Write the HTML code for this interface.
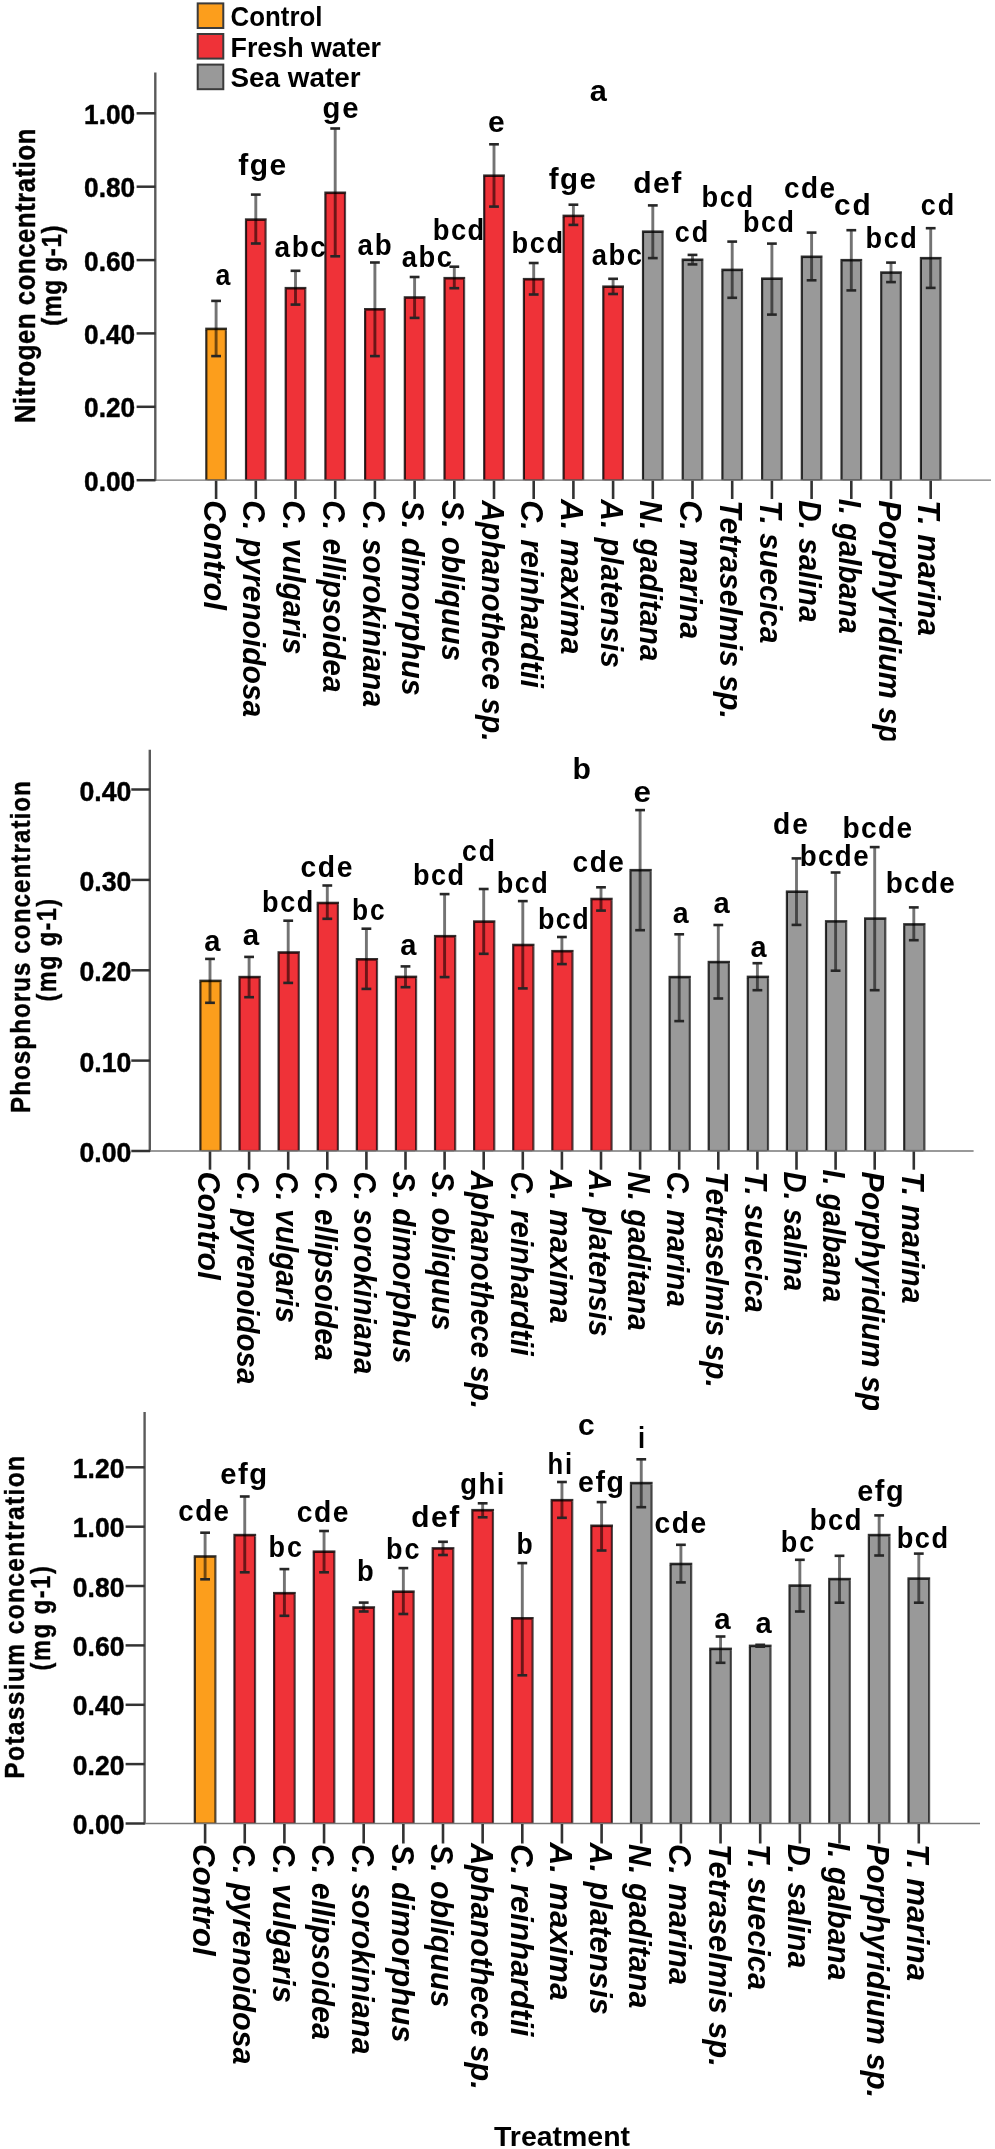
<!DOCTYPE html>
<html lang="en">
<head>
<meta charset="utf-8">
<title>Nutrient concentrations by treatment</title>
<style>
html,body{margin:0;padding:0;background:#fff;}
body{width:995px;height:2149px;overflow:hidden;}
svg{display:block;}
</style>
</head>
<body>
<svg width="995" height="2149" viewBox="0 0 995 2149" font-family="'Liberation Sans', Arial, Helvetica, sans-serif" font-weight="bold" fill="#000">
<rect x="0" y="0" width="995" height="2149" fill="#ffffff"/>
<defs><filter id="soft" x="0" y="0" width="995" height="2149" filterUnits="userSpaceOnUse"><feGaussianBlur stdDeviation="0.5"/></filter></defs>
<g filter="url(#soft)">
<rect x="0" y="0" width="995" height="2149" fill="#ffffff"/>
<rect x="206.30" y="328.70" width="19.60" height="151.50" fill="#fc9e1e"/>
<path d="M206.30 480.20V330.00" fill="none" stroke="#000" stroke-opacity="0.8" stroke-width="2.2"/>
<path d="M205.20 328.90H227.00" fill="none" stroke="#000" stroke-opacity="0.8" stroke-width="2.6"/>
<path d="M225.90 330.20V480.20" fill="none" stroke="#000" stroke-opacity="0.66" stroke-width="2.2"/>
<path d="M207.40 479.90H224.80" fill="none" stroke="#000" stroke-opacity="0.5" stroke-width="1.6"/>
<rect x="246.00" y="219.40" width="19.60" height="260.80" fill="#ef3039"/>
<path d="M246.00 480.20V220.70" fill="none" stroke="#000" stroke-opacity="0.8" stroke-width="2.2"/>
<path d="M244.90 219.60H266.70" fill="none" stroke="#000" stroke-opacity="0.8" stroke-width="2.6"/>
<path d="M265.60 220.90V480.20" fill="none" stroke="#000" stroke-opacity="0.66" stroke-width="2.2"/>
<path d="M247.10 479.90H264.50" fill="none" stroke="#000" stroke-opacity="0.5" stroke-width="1.6"/>
<rect x="285.70" y="288.00" width="19.60" height="192.20" fill="#ef3039"/>
<path d="M285.70 480.20V289.30" fill="none" stroke="#000" stroke-opacity="0.8" stroke-width="2.2"/>
<path d="M284.60 288.20H306.40" fill="none" stroke="#000" stroke-opacity="0.8" stroke-width="2.6"/>
<path d="M305.30 289.50V480.20" fill="none" stroke="#000" stroke-opacity="0.66" stroke-width="2.2"/>
<path d="M286.80 479.90H304.20" fill="none" stroke="#000" stroke-opacity="0.5" stroke-width="1.6"/>
<rect x="325.40" y="192.60" width="19.60" height="287.60" fill="#ef3039"/>
<path d="M325.40 480.20V193.90" fill="none" stroke="#000" stroke-opacity="0.8" stroke-width="2.2"/>
<path d="M324.30 192.80H346.10" fill="none" stroke="#000" stroke-opacity="0.8" stroke-width="2.6"/>
<path d="M345.00 194.10V480.20" fill="none" stroke="#000" stroke-opacity="0.66" stroke-width="2.2"/>
<path d="M326.50 479.90H343.90" fill="none" stroke="#000" stroke-opacity="0.5" stroke-width="1.6"/>
<rect x="365.10" y="309.10" width="19.60" height="171.10" fill="#ef3039"/>
<path d="M365.10 480.20V310.40" fill="none" stroke="#000" stroke-opacity="0.8" stroke-width="2.2"/>
<path d="M364.00 309.30H385.80" fill="none" stroke="#000" stroke-opacity="0.8" stroke-width="2.6"/>
<path d="M384.70 310.60V480.20" fill="none" stroke="#000" stroke-opacity="0.66" stroke-width="2.2"/>
<path d="M366.20 479.90H383.60" fill="none" stroke="#000" stroke-opacity="0.5" stroke-width="1.6"/>
<rect x="404.80" y="297.30" width="19.60" height="182.90" fill="#ef3039"/>
<path d="M404.80 480.20V298.60" fill="none" stroke="#000" stroke-opacity="0.8" stroke-width="2.2"/>
<path d="M403.70 297.50H425.50" fill="none" stroke="#000" stroke-opacity="0.8" stroke-width="2.6"/>
<path d="M424.40 298.80V480.20" fill="none" stroke="#000" stroke-opacity="0.66" stroke-width="2.2"/>
<path d="M405.90 479.90H423.30" fill="none" stroke="#000" stroke-opacity="0.5" stroke-width="1.6"/>
<rect x="444.50" y="278.00" width="19.60" height="202.20" fill="#ef3039"/>
<path d="M444.50 480.20V279.30" fill="none" stroke="#000" stroke-opacity="0.8" stroke-width="2.2"/>
<path d="M443.40 278.20H465.20" fill="none" stroke="#000" stroke-opacity="0.8" stroke-width="2.6"/>
<path d="M464.10 279.50V480.20" fill="none" stroke="#000" stroke-opacity="0.66" stroke-width="2.2"/>
<path d="M445.60 479.90H463.00" fill="none" stroke="#000" stroke-opacity="0.5" stroke-width="1.6"/>
<rect x="484.20" y="175.50" width="19.60" height="304.70" fill="#ef3039"/>
<path d="M484.20 480.20V176.80" fill="none" stroke="#000" stroke-opacity="0.8" stroke-width="2.2"/>
<path d="M483.10 175.70H504.90" fill="none" stroke="#000" stroke-opacity="0.8" stroke-width="2.6"/>
<path d="M503.80 177.00V480.20" fill="none" stroke="#000" stroke-opacity="0.66" stroke-width="2.2"/>
<path d="M485.30 479.90H502.70" fill="none" stroke="#000" stroke-opacity="0.5" stroke-width="1.6"/>
<rect x="523.90" y="279.00" width="19.60" height="201.20" fill="#ef3039"/>
<path d="M523.90 480.20V280.30" fill="none" stroke="#000" stroke-opacity="0.8" stroke-width="2.2"/>
<path d="M522.80 279.20H544.60" fill="none" stroke="#000" stroke-opacity="0.8" stroke-width="2.6"/>
<path d="M543.50 280.50V480.20" fill="none" stroke="#000" stroke-opacity="0.66" stroke-width="2.2"/>
<path d="M525.00 479.90H542.40" fill="none" stroke="#000" stroke-opacity="0.5" stroke-width="1.6"/>
<rect x="563.60" y="215.70" width="19.60" height="264.50" fill="#ef3039"/>
<path d="M563.60 480.20V217.00" fill="none" stroke="#000" stroke-opacity="0.8" stroke-width="2.2"/>
<path d="M562.50 215.90H584.30" fill="none" stroke="#000" stroke-opacity="0.8" stroke-width="2.6"/>
<path d="M583.20 217.20V480.20" fill="none" stroke="#000" stroke-opacity="0.66" stroke-width="2.2"/>
<path d="M564.70 479.90H582.10" fill="none" stroke="#000" stroke-opacity="0.5" stroke-width="1.6"/>
<rect x="603.30" y="286.50" width="19.60" height="193.70" fill="#ef3039"/>
<path d="M603.30 480.20V287.80" fill="none" stroke="#000" stroke-opacity="0.8" stroke-width="2.2"/>
<path d="M602.20 286.70H624.00" fill="none" stroke="#000" stroke-opacity="0.8" stroke-width="2.6"/>
<path d="M622.90 288.00V480.20" fill="none" stroke="#000" stroke-opacity="0.66" stroke-width="2.2"/>
<path d="M604.40 479.90H621.80" fill="none" stroke="#000" stroke-opacity="0.5" stroke-width="1.6"/>
<rect x="643.00" y="231.50" width="19.60" height="248.70" fill="#999999"/>
<path d="M643.00 480.20V232.80" fill="none" stroke="#000" stroke-opacity="0.8" stroke-width="2.2"/>
<path d="M641.90 231.70H663.70" fill="none" stroke="#000" stroke-opacity="0.8" stroke-width="2.6"/>
<path d="M662.60 233.00V480.20" fill="none" stroke="#000" stroke-opacity="0.66" stroke-width="2.2"/>
<path d="M644.10 479.90H661.50" fill="none" stroke="#000" stroke-opacity="0.5" stroke-width="1.6"/>
<rect x="682.70" y="259.60" width="19.60" height="220.60" fill="#999999"/>
<path d="M682.70 480.20V260.90" fill="none" stroke="#000" stroke-opacity="0.8" stroke-width="2.2"/>
<path d="M681.60 259.80H703.40" fill="none" stroke="#000" stroke-opacity="0.8" stroke-width="2.6"/>
<path d="M702.30 261.10V480.20" fill="none" stroke="#000" stroke-opacity="0.66" stroke-width="2.2"/>
<path d="M683.80 479.90H701.20" fill="none" stroke="#000" stroke-opacity="0.5" stroke-width="1.6"/>
<rect x="722.40" y="269.70" width="19.60" height="210.50" fill="#999999"/>
<path d="M722.40 480.20V271.00" fill="none" stroke="#000" stroke-opacity="0.8" stroke-width="2.2"/>
<path d="M721.30 269.90H743.10" fill="none" stroke="#000" stroke-opacity="0.8" stroke-width="2.6"/>
<path d="M742.00 271.20V480.20" fill="none" stroke="#000" stroke-opacity="0.66" stroke-width="2.2"/>
<path d="M723.50 479.90H740.90" fill="none" stroke="#000" stroke-opacity="0.5" stroke-width="1.6"/>
<rect x="762.10" y="278.50" width="19.60" height="201.70" fill="#999999"/>
<path d="M762.10 480.20V279.80" fill="none" stroke="#000" stroke-opacity="0.8" stroke-width="2.2"/>
<path d="M761.00 278.70H782.80" fill="none" stroke="#000" stroke-opacity="0.8" stroke-width="2.6"/>
<path d="M781.70 280.00V480.20" fill="none" stroke="#000" stroke-opacity="0.66" stroke-width="2.2"/>
<path d="M763.20 479.90H780.60" fill="none" stroke="#000" stroke-opacity="0.5" stroke-width="1.6"/>
<rect x="801.80" y="256.60" width="19.60" height="223.60" fill="#999999"/>
<path d="M801.80 480.20V257.90" fill="none" stroke="#000" stroke-opacity="0.8" stroke-width="2.2"/>
<path d="M800.70 256.80H822.50" fill="none" stroke="#000" stroke-opacity="0.8" stroke-width="2.6"/>
<path d="M821.40 258.10V480.20" fill="none" stroke="#000" stroke-opacity="0.66" stroke-width="2.2"/>
<path d="M802.90 479.90H820.30" fill="none" stroke="#000" stroke-opacity="0.5" stroke-width="1.6"/>
<rect x="841.50" y="260.00" width="19.60" height="220.20" fill="#999999"/>
<path d="M841.50 480.20V261.30" fill="none" stroke="#000" stroke-opacity="0.8" stroke-width="2.2"/>
<path d="M840.40 260.20H862.20" fill="none" stroke="#000" stroke-opacity="0.8" stroke-width="2.6"/>
<path d="M861.10 261.50V480.20" fill="none" stroke="#000" stroke-opacity="0.66" stroke-width="2.2"/>
<path d="M842.60 479.90H860.00" fill="none" stroke="#000" stroke-opacity="0.5" stroke-width="1.6"/>
<rect x="881.20" y="272.40" width="19.60" height="207.80" fill="#999999"/>
<path d="M881.20 480.20V273.70" fill="none" stroke="#000" stroke-opacity="0.8" stroke-width="2.2"/>
<path d="M880.10 272.60H901.90" fill="none" stroke="#000" stroke-opacity="0.8" stroke-width="2.6"/>
<path d="M900.80 273.90V480.20" fill="none" stroke="#000" stroke-opacity="0.66" stroke-width="2.2"/>
<path d="M882.30 479.90H899.70" fill="none" stroke="#000" stroke-opacity="0.5" stroke-width="1.6"/>
<rect x="920.90" y="258.00" width="19.60" height="222.20" fill="#999999"/>
<path d="M920.90 480.20V259.30" fill="none" stroke="#000" stroke-opacity="0.8" stroke-width="2.2"/>
<path d="M919.80 258.20H941.60" fill="none" stroke="#000" stroke-opacity="0.8" stroke-width="2.6"/>
<path d="M940.50 259.50V480.20" fill="none" stroke="#000" stroke-opacity="0.66" stroke-width="2.2"/>
<path d="M922.00 479.90H939.40" fill="none" stroke="#000" stroke-opacity="0.5" stroke-width="1.6"/>
<line x1="155.30" y1="72.50" x2="155.30" y2="481.00" stroke="#5a5a5a" stroke-width="2.40"/>
<line x1="154.20" y1="480.20" x2="991.00" y2="480.20" stroke="#777777" stroke-width="1.30"/>
<line x1="136.60" y1="113.30" x2="155.50" y2="113.30" stroke="#333333" stroke-width="2.50"/>
<text font-size="28.50" stroke="#000" stroke-width="0.45" stroke-linejoin="round" textLength="51.1" lengthAdjust="spacingAndGlyphs" x="84.10" y="123.80">1.00</text>
<line x1="136.60" y1="186.70" x2="155.50" y2="186.70" stroke="#333333" stroke-width="2.50"/>
<text font-size="28.50" stroke="#000" stroke-width="0.45" stroke-linejoin="round" textLength="51.1" lengthAdjust="spacingAndGlyphs" x="84.10" y="197.20">0.80</text>
<line x1="136.60" y1="260.10" x2="155.50" y2="260.10" stroke="#333333" stroke-width="2.50"/>
<text font-size="28.50" stroke="#000" stroke-width="0.45" stroke-linejoin="round" textLength="51.1" lengthAdjust="spacingAndGlyphs" x="84.10" y="270.60">0.60</text>
<line x1="136.60" y1="333.40" x2="155.50" y2="333.40" stroke="#333333" stroke-width="2.50"/>
<text font-size="28.50" stroke="#000" stroke-width="0.45" stroke-linejoin="round" textLength="51.1" lengthAdjust="spacingAndGlyphs" x="84.10" y="343.90">0.40</text>
<line x1="136.60" y1="406.80" x2="155.50" y2="406.80" stroke="#333333" stroke-width="2.50"/>
<text font-size="28.50" stroke="#000" stroke-width="0.45" stroke-linejoin="round" textLength="51.1" lengthAdjust="spacingAndGlyphs" x="84.10" y="417.30">0.20</text>
<line x1="136.60" y1="480.20" x2="155.50" y2="480.20" stroke="#333333" stroke-width="2.50"/>
<text font-size="28.50" stroke="#000" stroke-width="0.45" stroke-linejoin="round" textLength="51.1" lengthAdjust="spacingAndGlyphs" x="84.10" y="490.70">0.00</text>
<line x1="216.10" y1="480.70" x2="216.10" y2="499.00" stroke="#303030" stroke-width="2.60"/>
<path d="M216.10 300.60V356.40" stroke="#000" stroke-opacity="0.55" stroke-width="2.9"/>
<line x1="211.20" y1="300.90" x2="221.00" y2="300.90" stroke="#262626" stroke-width="2.60"/>
<line x1="211.20" y1="356.10" x2="221.00" y2="356.10" stroke="#262626" stroke-width="2.60"/>
<line x1="255.80" y1="480.70" x2="255.80" y2="499.00" stroke="#303030" stroke-width="2.60"/>
<path d="M255.80 194.30V243.80" stroke="#000" stroke-opacity="0.55" stroke-width="2.9"/>
<line x1="250.90" y1="194.60" x2="260.70" y2="194.60" stroke="#262626" stroke-width="2.60"/>
<line x1="250.90" y1="243.50" x2="260.70" y2="243.50" stroke="#262626" stroke-width="2.60"/>
<line x1="295.50" y1="480.70" x2="295.50" y2="499.00" stroke="#303030" stroke-width="2.60"/>
<path d="M295.50 270.50V304.90" stroke="#000" stroke-opacity="0.55" stroke-width="2.9"/>
<line x1="290.60" y1="270.80" x2="300.40" y2="270.80" stroke="#262626" stroke-width="2.60"/>
<line x1="290.60" y1="304.60" x2="300.40" y2="304.60" stroke="#262626" stroke-width="2.60"/>
<line x1="335.20" y1="480.70" x2="335.20" y2="499.00" stroke="#303030" stroke-width="2.60"/>
<path d="M335.20 128.20V256.60" stroke="#000" stroke-opacity="0.55" stroke-width="2.9"/>
<line x1="330.30" y1="128.50" x2="340.10" y2="128.50" stroke="#262626" stroke-width="2.60"/>
<line x1="330.30" y1="256.30" x2="340.10" y2="256.30" stroke="#262626" stroke-width="2.60"/>
<line x1="374.90" y1="480.70" x2="374.90" y2="499.00" stroke="#303030" stroke-width="2.60"/>
<path d="M374.90 262.20V356.40" stroke="#000" stroke-opacity="0.55" stroke-width="2.9"/>
<line x1="370.00" y1="262.50" x2="379.80" y2="262.50" stroke="#262626" stroke-width="2.60"/>
<line x1="370.00" y1="356.10" x2="379.80" y2="356.10" stroke="#262626" stroke-width="2.60"/>
<line x1="414.60" y1="480.70" x2="414.60" y2="499.00" stroke="#303030" stroke-width="2.60"/>
<path d="M414.60 276.70V318.20" stroke="#000" stroke-opacity="0.55" stroke-width="2.9"/>
<line x1="409.70" y1="277.00" x2="419.50" y2="277.00" stroke="#262626" stroke-width="2.60"/>
<line x1="409.70" y1="317.90" x2="419.50" y2="317.90" stroke="#262626" stroke-width="2.60"/>
<line x1="454.30" y1="480.70" x2="454.30" y2="499.00" stroke="#303030" stroke-width="2.60"/>
<path d="M454.30 266.40V288.50" stroke="#000" stroke-opacity="0.55" stroke-width="2.9"/>
<line x1="449.40" y1="266.70" x2="459.20" y2="266.70" stroke="#262626" stroke-width="2.60"/>
<line x1="449.40" y1="288.20" x2="459.20" y2="288.20" stroke="#262626" stroke-width="2.60"/>
<line x1="494.00" y1="480.70" x2="494.00" y2="499.00" stroke="#303030" stroke-width="2.60"/>
<path d="M494.00 144.00V206.90" stroke="#000" stroke-opacity="0.55" stroke-width="2.9"/>
<line x1="489.10" y1="144.30" x2="498.90" y2="144.30" stroke="#262626" stroke-width="2.60"/>
<line x1="489.10" y1="206.60" x2="498.90" y2="206.60" stroke="#262626" stroke-width="2.60"/>
<line x1="533.70" y1="480.70" x2="533.70" y2="499.00" stroke="#303030" stroke-width="2.60"/>
<path d="M533.70 262.70V294.80" stroke="#000" stroke-opacity="0.55" stroke-width="2.9"/>
<line x1="528.80" y1="263.00" x2="538.60" y2="263.00" stroke="#262626" stroke-width="2.60"/>
<line x1="528.80" y1="294.50" x2="538.60" y2="294.50" stroke="#262626" stroke-width="2.60"/>
<line x1="573.40" y1="480.70" x2="573.40" y2="499.00" stroke="#303030" stroke-width="2.60"/>
<path d="M573.40 204.40V225.20" stroke="#000" stroke-opacity="0.55" stroke-width="2.9"/>
<line x1="568.50" y1="204.70" x2="578.30" y2="204.70" stroke="#262626" stroke-width="2.60"/>
<line x1="568.50" y1="224.90" x2="578.30" y2="224.90" stroke="#262626" stroke-width="2.60"/>
<line x1="613.10" y1="480.70" x2="613.10" y2="499.00" stroke="#303030" stroke-width="2.60"/>
<path d="M613.10 278.50V294.30" stroke="#000" stroke-opacity="0.55" stroke-width="2.9"/>
<line x1="608.20" y1="278.80" x2="618.00" y2="278.80" stroke="#262626" stroke-width="2.60"/>
<line x1="608.20" y1="294.00" x2="618.00" y2="294.00" stroke="#262626" stroke-width="2.60"/>
<line x1="652.80" y1="480.70" x2="652.80" y2="499.00" stroke="#303030" stroke-width="2.60"/>
<path d="M652.80 205.10V258.40" stroke="#000" stroke-opacity="0.55" stroke-width="2.9"/>
<line x1="647.90" y1="205.40" x2="657.70" y2="205.40" stroke="#262626" stroke-width="2.60"/>
<line x1="647.90" y1="258.10" x2="657.70" y2="258.10" stroke="#262626" stroke-width="2.60"/>
<line x1="692.50" y1="480.70" x2="692.50" y2="499.00" stroke="#303030" stroke-width="2.60"/>
<path d="M692.50 254.60V264.70" stroke="#000" stroke-opacity="0.55" stroke-width="2.9"/>
<line x1="687.60" y1="254.90" x2="697.40" y2="254.90" stroke="#262626" stroke-width="2.60"/>
<line x1="687.60" y1="264.40" x2="697.40" y2="264.40" stroke="#262626" stroke-width="2.60"/>
<line x1="732.20" y1="480.70" x2="732.20" y2="499.00" stroke="#303030" stroke-width="2.60"/>
<path d="M732.20 241.30V298.10" stroke="#000" stroke-opacity="0.55" stroke-width="2.9"/>
<line x1="727.30" y1="241.60" x2="737.10" y2="241.60" stroke="#262626" stroke-width="2.60"/>
<line x1="727.30" y1="297.80" x2="737.10" y2="297.80" stroke="#262626" stroke-width="2.60"/>
<line x1="771.90" y1="480.70" x2="771.90" y2="499.00" stroke="#303030" stroke-width="2.60"/>
<path d="M771.90 243.30V314.90" stroke="#000" stroke-opacity="0.55" stroke-width="2.9"/>
<line x1="767.00" y1="243.60" x2="776.80" y2="243.60" stroke="#262626" stroke-width="2.60"/>
<line x1="767.00" y1="314.60" x2="776.80" y2="314.60" stroke="#262626" stroke-width="2.60"/>
<line x1="811.60" y1="480.70" x2="811.60" y2="499.00" stroke="#303030" stroke-width="2.60"/>
<path d="M811.60 232.30V280.60" stroke="#000" stroke-opacity="0.55" stroke-width="2.9"/>
<line x1="806.70" y1="232.60" x2="816.50" y2="232.60" stroke="#262626" stroke-width="2.60"/>
<line x1="806.70" y1="280.30" x2="816.50" y2="280.30" stroke="#262626" stroke-width="2.60"/>
<line x1="851.30" y1="480.70" x2="851.30" y2="499.00" stroke="#303030" stroke-width="2.60"/>
<path d="M851.30 229.90V290.70" stroke="#000" stroke-opacity="0.55" stroke-width="2.9"/>
<line x1="846.40" y1="230.20" x2="856.20" y2="230.20" stroke="#262626" stroke-width="2.60"/>
<line x1="846.40" y1="290.40" x2="856.20" y2="290.40" stroke="#262626" stroke-width="2.60"/>
<line x1="891.00" y1="480.70" x2="891.00" y2="499.00" stroke="#303030" stroke-width="2.60"/>
<path d="M891.00 262.30V282.40" stroke="#000" stroke-opacity="0.55" stroke-width="2.9"/>
<line x1="886.10" y1="262.60" x2="895.90" y2="262.60" stroke="#262626" stroke-width="2.60"/>
<line x1="886.10" y1="282.10" x2="895.90" y2="282.10" stroke="#262626" stroke-width="2.60"/>
<line x1="930.70" y1="480.70" x2="930.70" y2="499.00" stroke="#303030" stroke-width="2.60"/>
<path d="M930.70 227.90V288.20" stroke="#000" stroke-opacity="0.55" stroke-width="2.9"/>
<line x1="925.80" y1="228.20" x2="935.60" y2="228.20" stroke="#262626" stroke-width="2.60"/>
<line x1="925.80" y1="287.90" x2="935.60" y2="287.90" stroke="#262626" stroke-width="2.60"/>
<text font-size="29.00" textLength="14.9" lengthAdjust="spacingAndGlyphs" x="215.60" y="284.80">a</text>
<text font-size="29.00" textLength="46.4" lengthAdjust="spacing" transform="translate(238.20,175.00) rotate(0) scale(1.037,1)">fge</text>
<text font-size="29.00" textLength="53.1" lengthAdjust="spacing" transform="translate(274.60,257.10) rotate(0) scale(0.965,1)">abc</text>
<text font-size="29.00" textLength="35.8" lengthAdjust="spacing" transform="translate(322.40,117.70) rotate(0) scale(1.011,1)">ge</text>
<text font-size="29.00" textLength="35.9" lengthAdjust="spacing" transform="translate(357.50,254.60) rotate(0) scale(0.954,1)">ab</text>
<text font-size="29.00" textLength="53.1" lengthAdjust="spacing" transform="translate(401.80,267.20) rotate(0) scale(0.943,1)">abc</text>
<text font-size="29.00" textLength="54.7" lengthAdjust="spacing" transform="translate(432.70,240.00) rotate(0) scale(0.943,1)">bcd</text>
<text font-size="29.00" textLength="16.7" lengthAdjust="spacingAndGlyphs" x="488.00" y="132.00">e</text>
<text font-size="29.00" textLength="54.8" lengthAdjust="spacing" transform="translate(511.60,252.90) rotate(0) scale(0.939,1)">bcd</text>
<text font-size="29.00" textLength="46.4" lengthAdjust="spacing" transform="translate(548.80,188.50) rotate(0) scale(1.018,1)">fge</text>
<text font-size="29.00" textLength="53.1" lengthAdjust="spacing" transform="translate(591.70,264.70) rotate(0) scale(0.945,1)">abc</text>
<text font-size="29.00" textLength="46.4" lengthAdjust="spacing" transform="translate(633.20,193.00) rotate(0) scale(1.039,1)">def</text>
<text font-size="29.00" textLength="36.0" lengthAdjust="spacing" transform="translate(674.70,242.00) rotate(0) scale(0.931,1)">cd</text>
<text font-size="29.00" textLength="54.8" lengthAdjust="spacing" transform="translate(701.60,207.40) rotate(0) scale(0.939,1)">bcd</text>
<text font-size="29.00" textLength="54.8" lengthAdjust="spacing" transform="translate(743.10,232.00) rotate(0) scale(0.927,1)">bcd</text>
<text font-size="29.00" textLength="53.1" lengthAdjust="spacing" transform="translate(783.90,198.40) rotate(0) scale(0.963,1)">cde</text>
<text font-size="29.00" textLength="35.8" lengthAdjust="spacing" transform="translate(833.90,214.80) rotate(0) scale(1.028,1)">cd</text>
<text font-size="29.00" textLength="54.8" lengthAdjust="spacing" transform="translate(865.60,247.50) rotate(0) scale(0.933,1)">bcd</text>
<text font-size="29.00" textLength="36.0" lengthAdjust="spacing" transform="translate(920.80,215.30) rotate(0) scale(0.931,1)">cd</text>
<text font-size="29.00" textLength="17.1" lengthAdjust="spacingAndGlyphs" x="589.80" y="100.60">a</text>
<clipPath id="clip740"><rect x="0" y="480.2" width="995" height="260.3"/></clipPath>
<g clip-path="url(#clip740)">
<text font-size="31.50" font-style="italic" textLength="109.7" lengthAdjust="spacingAndGlyphs" transform="translate(203.70,500.30) rotate(90)">Control</text>
<text font-size="31.50" font-style="italic" textLength="217.0" lengthAdjust="spacingAndGlyphs" transform="translate(243.40,500.30) rotate(90)">C. pyrenoidosa</text>
<text font-size="31.50" font-style="italic" textLength="154.2" lengthAdjust="spacingAndGlyphs" transform="translate(283.10,500.30) rotate(90)">C. vulgaris</text>
<text font-size="31.50" font-style="italic" textLength="192.2" lengthAdjust="spacingAndGlyphs" transform="translate(322.80,500.30) rotate(90)">C. ellipsoidea</text>
<text font-size="31.50" font-style="italic" textLength="206.8" lengthAdjust="spacingAndGlyphs" transform="translate(362.50,500.30) rotate(90)">C. sorokiniana</text>
<text font-size="31.50" font-style="italic" textLength="195.5" lengthAdjust="spacingAndGlyphs" transform="translate(402.20,500.30) rotate(90)">S. dimorphus</text>
<text font-size="31.50" font-style="italic" textLength="160.7" lengthAdjust="spacingAndGlyphs" transform="translate(441.90,500.30) rotate(90)">S. obliquus</text>
<text font-size="31.50" font-style="italic" textLength="241.2" lengthAdjust="spacingAndGlyphs" transform="translate(481.60,500.30) rotate(90)">Aphanothece sp.</text>
<text font-size="31.50" font-style="italic" textLength="187.7" lengthAdjust="spacingAndGlyphs" transform="translate(521.30,500.30) rotate(90)">C. reinhardtii</text>
<text font-size="31.50" font-style="italic" textLength="155.2" lengthAdjust="spacingAndGlyphs" transform="translate(561.00,499.30) rotate(90)">A. maxima</text>
<text font-size="31.50" font-style="italic" textLength="168.7" lengthAdjust="spacingAndGlyphs" transform="translate(600.70,499.30) rotate(90)">A. platensis</text>
<text font-size="31.50" font-style="italic" textLength="161.2" lengthAdjust="spacingAndGlyphs" transform="translate(640.40,500.30) rotate(90)">N. gaditana</text>
<text font-size="31.50" font-style="italic" textLength="139.0" lengthAdjust="spacingAndGlyphs" transform="translate(680.10,500.30) rotate(90)">C. marina</text>
<text font-size="31.50" font-style="italic" textLength="218.6" lengthAdjust="spacingAndGlyphs" transform="translate(719.80,500.30) rotate(90)">Tetraselmis sp.</text>
<text font-size="31.50" font-style="italic" textLength="143.2" lengthAdjust="spacingAndGlyphs" transform="translate(759.50,500.30) rotate(90)">T. suecica</text>
<text font-size="31.50" font-style="italic" textLength="122.2" lengthAdjust="spacingAndGlyphs" transform="translate(799.20,500.30) rotate(90)">D. salina</text>
<text font-size="31.50" font-style="italic" textLength="135.1" lengthAdjust="spacingAndGlyphs" transform="translate(838.90,498.70) rotate(90)">I. galbana</text>
<text font-size="31.50" font-style="italic" textLength="251.4" lengthAdjust="spacingAndGlyphs" transform="translate(878.60,500.30) rotate(90)">Porphyridium sp.</text>
<text font-size="31.50" font-style="italic" textLength="135.7" lengthAdjust="spacingAndGlyphs" transform="translate(918.30,500.30) rotate(90)">T. marina</text>
</g>
<text font-size="29.50" stroke="#000" stroke-width="0.40" stroke-linejoin="round" textLength="338.5" lengthAdjust="spacing" transform="translate(35.30,423.00) rotate(-90) scale(0.870,1)">Nitrogen concentration</text>
<text font-size="28.00" stroke="#000" stroke-width="0.40" stroke-linejoin="round" textLength="115.5" lengthAdjust="spacing" transform="translate(61.00,325.80) rotate(-90) scale(0.870,1)">(mg g-1)</text>
<rect x="200.40" y="980.70" width="20.20" height="170.30" fill="#fc9e1e"/>
<path d="M200.40 1151.00V982.00" fill="none" stroke="#000" stroke-opacity="0.8" stroke-width="2.2"/>
<path d="M199.30 980.90H221.70" fill="none" stroke="#000" stroke-opacity="0.8" stroke-width="2.6"/>
<path d="M220.60 982.20V1151.00" fill="none" stroke="#000" stroke-opacity="0.66" stroke-width="2.2"/>
<path d="M201.50 1150.70H219.50" fill="none" stroke="#000" stroke-opacity="0.5" stroke-width="1.6"/>
<rect x="239.50" y="976.90" width="20.20" height="174.10" fill="#ef3039"/>
<path d="M239.50 1151.00V978.20" fill="none" stroke="#000" stroke-opacity="0.8" stroke-width="2.2"/>
<path d="M238.40 977.10H260.80" fill="none" stroke="#000" stroke-opacity="0.8" stroke-width="2.6"/>
<path d="M259.70 978.40V1151.00" fill="none" stroke="#000" stroke-opacity="0.66" stroke-width="2.2"/>
<path d="M240.60 1150.70H258.60" fill="none" stroke="#000" stroke-opacity="0.5" stroke-width="1.6"/>
<rect x="278.60" y="952.30" width="20.20" height="198.70" fill="#ef3039"/>
<path d="M278.60 1151.00V953.60" fill="none" stroke="#000" stroke-opacity="0.8" stroke-width="2.2"/>
<path d="M277.50 952.50H299.90" fill="none" stroke="#000" stroke-opacity="0.8" stroke-width="2.6"/>
<path d="M298.80 953.80V1151.00" fill="none" stroke="#000" stroke-opacity="0.66" stroke-width="2.2"/>
<path d="M279.70 1150.70H297.70" fill="none" stroke="#000" stroke-opacity="0.5" stroke-width="1.6"/>
<rect x="317.70" y="902.80" width="20.20" height="248.20" fill="#ef3039"/>
<path d="M317.70 1151.00V904.10" fill="none" stroke="#000" stroke-opacity="0.8" stroke-width="2.2"/>
<path d="M316.60 903.00H339.00" fill="none" stroke="#000" stroke-opacity="0.8" stroke-width="2.6"/>
<path d="M337.90 904.30V1151.00" fill="none" stroke="#000" stroke-opacity="0.66" stroke-width="2.2"/>
<path d="M318.80 1150.70H336.80" fill="none" stroke="#000" stroke-opacity="0.5" stroke-width="1.6"/>
<rect x="356.80" y="959.10" width="20.20" height="191.90" fill="#ef3039"/>
<path d="M356.80 1151.00V960.40" fill="none" stroke="#000" stroke-opacity="0.8" stroke-width="2.2"/>
<path d="M355.70 959.30H378.10" fill="none" stroke="#000" stroke-opacity="0.8" stroke-width="2.6"/>
<path d="M377.00 960.60V1151.00" fill="none" stroke="#000" stroke-opacity="0.66" stroke-width="2.2"/>
<path d="M357.90 1150.70H375.90" fill="none" stroke="#000" stroke-opacity="0.5" stroke-width="1.6"/>
<rect x="395.90" y="976.70" width="20.20" height="174.30" fill="#ef3039"/>
<path d="M395.90 1151.00V978.00" fill="none" stroke="#000" stroke-opacity="0.8" stroke-width="2.2"/>
<path d="M394.80 976.90H417.20" fill="none" stroke="#000" stroke-opacity="0.8" stroke-width="2.6"/>
<path d="M416.10 978.20V1151.00" fill="none" stroke="#000" stroke-opacity="0.66" stroke-width="2.2"/>
<path d="M397.00 1150.70H415.00" fill="none" stroke="#000" stroke-opacity="0.5" stroke-width="1.6"/>
<rect x="435.00" y="936.00" width="20.20" height="215.00" fill="#ef3039"/>
<path d="M435.00 1151.00V937.30" fill="none" stroke="#000" stroke-opacity="0.8" stroke-width="2.2"/>
<path d="M433.90 936.20H456.30" fill="none" stroke="#000" stroke-opacity="0.8" stroke-width="2.6"/>
<path d="M455.20 937.50V1151.00" fill="none" stroke="#000" stroke-opacity="0.66" stroke-width="2.2"/>
<path d="M436.10 1150.70H454.10" fill="none" stroke="#000" stroke-opacity="0.5" stroke-width="1.6"/>
<rect x="474.10" y="921.40" width="20.20" height="229.60" fill="#ef3039"/>
<path d="M474.10 1151.00V922.70" fill="none" stroke="#000" stroke-opacity="0.8" stroke-width="2.2"/>
<path d="M473.00 921.60H495.40" fill="none" stroke="#000" stroke-opacity="0.8" stroke-width="2.6"/>
<path d="M494.30 922.90V1151.00" fill="none" stroke="#000" stroke-opacity="0.66" stroke-width="2.2"/>
<path d="M475.20 1150.70H493.20" fill="none" stroke="#000" stroke-opacity="0.5" stroke-width="1.6"/>
<rect x="513.20" y="944.80" width="20.20" height="206.20" fill="#ef3039"/>
<path d="M513.20 1151.00V946.10" fill="none" stroke="#000" stroke-opacity="0.8" stroke-width="2.2"/>
<path d="M512.10 945.00H534.50" fill="none" stroke="#000" stroke-opacity="0.8" stroke-width="2.6"/>
<path d="M533.40 946.30V1151.00" fill="none" stroke="#000" stroke-opacity="0.66" stroke-width="2.2"/>
<path d="M514.30 1150.70H532.30" fill="none" stroke="#000" stroke-opacity="0.5" stroke-width="1.6"/>
<rect x="552.30" y="951.00" width="20.20" height="200.00" fill="#ef3039"/>
<path d="M552.30 1151.00V952.30" fill="none" stroke="#000" stroke-opacity="0.8" stroke-width="2.2"/>
<path d="M551.20 951.20H573.60" fill="none" stroke="#000" stroke-opacity="0.8" stroke-width="2.6"/>
<path d="M572.50 952.50V1151.00" fill="none" stroke="#000" stroke-opacity="0.66" stroke-width="2.2"/>
<path d="M553.40 1150.70H571.40" fill="none" stroke="#000" stroke-opacity="0.5" stroke-width="1.6"/>
<rect x="591.40" y="898.80" width="20.20" height="252.20" fill="#ef3039"/>
<path d="M591.40 1151.00V900.10" fill="none" stroke="#000" stroke-opacity="0.8" stroke-width="2.2"/>
<path d="M590.30 899.00H612.70" fill="none" stroke="#000" stroke-opacity="0.8" stroke-width="2.6"/>
<path d="M611.60 900.30V1151.00" fill="none" stroke="#000" stroke-opacity="0.66" stroke-width="2.2"/>
<path d="M592.50 1150.70H610.50" fill="none" stroke="#000" stroke-opacity="0.5" stroke-width="1.6"/>
<rect x="630.50" y="870.00" width="20.20" height="281.00" fill="#999999"/>
<path d="M630.50 1151.00V871.30" fill="none" stroke="#000" stroke-opacity="0.8" stroke-width="2.2"/>
<path d="M629.40 870.20H651.80" fill="none" stroke="#000" stroke-opacity="0.8" stroke-width="2.6"/>
<path d="M650.70 871.50V1151.00" fill="none" stroke="#000" stroke-opacity="0.66" stroke-width="2.2"/>
<path d="M631.60 1150.70H649.60" fill="none" stroke="#000" stroke-opacity="0.5" stroke-width="1.6"/>
<rect x="669.60" y="976.90" width="20.20" height="174.10" fill="#999999"/>
<path d="M669.60 1151.00V978.20" fill="none" stroke="#000" stroke-opacity="0.8" stroke-width="2.2"/>
<path d="M668.50 977.10H690.90" fill="none" stroke="#000" stroke-opacity="0.8" stroke-width="2.6"/>
<path d="M689.80 978.40V1151.00" fill="none" stroke="#000" stroke-opacity="0.66" stroke-width="2.2"/>
<path d="M670.70 1150.70H688.70" fill="none" stroke="#000" stroke-opacity="0.5" stroke-width="1.6"/>
<rect x="708.70" y="961.90" width="20.20" height="189.10" fill="#999999"/>
<path d="M708.70 1151.00V963.20" fill="none" stroke="#000" stroke-opacity="0.8" stroke-width="2.2"/>
<path d="M707.60 962.10H730.00" fill="none" stroke="#000" stroke-opacity="0.8" stroke-width="2.6"/>
<path d="M728.90 963.40V1151.00" fill="none" stroke="#000" stroke-opacity="0.66" stroke-width="2.2"/>
<path d="M709.80 1150.70H727.80" fill="none" stroke="#000" stroke-opacity="0.5" stroke-width="1.6"/>
<rect x="747.80" y="976.70" width="20.20" height="174.30" fill="#999999"/>
<path d="M747.80 1151.00V978.00" fill="none" stroke="#000" stroke-opacity="0.8" stroke-width="2.2"/>
<path d="M746.70 976.90H769.10" fill="none" stroke="#000" stroke-opacity="0.8" stroke-width="2.6"/>
<path d="M768.00 978.20V1151.00" fill="none" stroke="#000" stroke-opacity="0.66" stroke-width="2.2"/>
<path d="M748.90 1150.70H766.90" fill="none" stroke="#000" stroke-opacity="0.5" stroke-width="1.6"/>
<rect x="786.90" y="891.50" width="20.20" height="259.50" fill="#999999"/>
<path d="M786.90 1151.00V892.80" fill="none" stroke="#000" stroke-opacity="0.8" stroke-width="2.2"/>
<path d="M785.80 891.70H808.20" fill="none" stroke="#000" stroke-opacity="0.8" stroke-width="2.6"/>
<path d="M807.10 893.00V1151.00" fill="none" stroke="#000" stroke-opacity="0.66" stroke-width="2.2"/>
<path d="M788.00 1150.70H806.00" fill="none" stroke="#000" stroke-opacity="0.5" stroke-width="1.6"/>
<rect x="826.00" y="921.20" width="20.20" height="229.80" fill="#999999"/>
<path d="M826.00 1151.00V922.50" fill="none" stroke="#000" stroke-opacity="0.8" stroke-width="2.2"/>
<path d="M824.90 921.40H847.30" fill="none" stroke="#000" stroke-opacity="0.8" stroke-width="2.6"/>
<path d="M846.20 922.70V1151.00" fill="none" stroke="#000" stroke-opacity="0.66" stroke-width="2.2"/>
<path d="M827.10 1150.70H845.10" fill="none" stroke="#000" stroke-opacity="0.5" stroke-width="1.6"/>
<rect x="865.10" y="918.40" width="20.20" height="232.60" fill="#999999"/>
<path d="M865.10 1151.00V919.70" fill="none" stroke="#000" stroke-opacity="0.8" stroke-width="2.2"/>
<path d="M864.00 918.60H886.40" fill="none" stroke="#000" stroke-opacity="0.8" stroke-width="2.6"/>
<path d="M885.30 919.90V1151.00" fill="none" stroke="#000" stroke-opacity="0.66" stroke-width="2.2"/>
<path d="M866.20 1150.70H884.20" fill="none" stroke="#000" stroke-opacity="0.5" stroke-width="1.6"/>
<rect x="904.20" y="924.20" width="20.20" height="226.80" fill="#999999"/>
<path d="M904.20 1151.00V925.50" fill="none" stroke="#000" stroke-opacity="0.8" stroke-width="2.2"/>
<path d="M903.10 924.40H925.50" fill="none" stroke="#000" stroke-opacity="0.8" stroke-width="2.6"/>
<path d="M924.40 925.70V1151.00" fill="none" stroke="#000" stroke-opacity="0.66" stroke-width="2.2"/>
<path d="M905.30 1150.70H923.30" fill="none" stroke="#000" stroke-opacity="0.5" stroke-width="1.6"/>
<line x1="149.80" y1="749.80" x2="149.80" y2="1151.80" stroke="#5a5a5a" stroke-width="2.40"/>
<line x1="148.70" y1="1151.00" x2="973.60" y2="1151.00" stroke="#777777" stroke-width="1.30"/>
<line x1="131.30" y1="789.50" x2="150.00" y2="789.50" stroke="#333333" stroke-width="2.50"/>
<text font-size="28.50" stroke="#000" stroke-width="0.45" stroke-linejoin="round" textLength="51.9" lengthAdjust="spacingAndGlyphs" x="79.50" y="800.50">0.40</text>
<line x1="131.30" y1="879.90" x2="150.00" y2="879.90" stroke="#333333" stroke-width="2.50"/>
<text font-size="28.50" stroke="#000" stroke-width="0.45" stroke-linejoin="round" textLength="51.9" lengthAdjust="spacingAndGlyphs" x="79.50" y="890.90">0.30</text>
<line x1="131.30" y1="970.30" x2="150.00" y2="970.30" stroke="#333333" stroke-width="2.50"/>
<text font-size="28.50" stroke="#000" stroke-width="0.45" stroke-linejoin="round" textLength="51.9" lengthAdjust="spacingAndGlyphs" x="79.50" y="981.30">0.20</text>
<line x1="131.30" y1="1060.60" x2="150.00" y2="1060.60" stroke="#333333" stroke-width="2.50"/>
<text font-size="28.50" stroke="#000" stroke-width="0.45" stroke-linejoin="round" textLength="51.9" lengthAdjust="spacingAndGlyphs" x="79.50" y="1071.60">0.10</text>
<line x1="131.30" y1="1151.00" x2="150.00" y2="1151.00" stroke="#333333" stroke-width="2.50"/>
<text font-size="28.50" stroke="#000" stroke-width="0.45" stroke-linejoin="round" textLength="51.9" lengthAdjust="spacingAndGlyphs" x="79.50" y="1162.00">0.00</text>
<line x1="210.00" y1="1151.50" x2="210.00" y2="1169.70" stroke="#303030" stroke-width="2.60"/>
<path d="M210.00 958.60V1003.10" stroke="#000" stroke-opacity="0.55" stroke-width="2.9"/>
<line x1="205.10" y1="958.90" x2="214.90" y2="958.90" stroke="#262626" stroke-width="2.60"/>
<line x1="205.10" y1="1002.80" x2="214.90" y2="1002.80" stroke="#262626" stroke-width="2.60"/>
<line x1="249.10" y1="1151.50" x2="249.10" y2="1169.70" stroke="#303030" stroke-width="2.60"/>
<path d="M249.10 956.60V997.50" stroke="#000" stroke-opacity="0.55" stroke-width="2.9"/>
<line x1="244.20" y1="956.90" x2="254.00" y2="956.90" stroke="#262626" stroke-width="2.60"/>
<line x1="244.20" y1="997.20" x2="254.00" y2="997.20" stroke="#262626" stroke-width="2.60"/>
<line x1="288.20" y1="1151.50" x2="288.20" y2="1169.70" stroke="#303030" stroke-width="2.60"/>
<path d="M288.20 920.40V983.20" stroke="#000" stroke-opacity="0.55" stroke-width="2.9"/>
<line x1="283.30" y1="920.70" x2="293.10" y2="920.70" stroke="#262626" stroke-width="2.60"/>
<line x1="283.30" y1="982.90" x2="293.10" y2="982.90" stroke="#262626" stroke-width="2.60"/>
<line x1="327.30" y1="1151.50" x2="327.30" y2="1169.70" stroke="#303030" stroke-width="2.60"/>
<path d="M327.30 885.20V919.10" stroke="#000" stroke-opacity="0.55" stroke-width="2.9"/>
<line x1="322.40" y1="885.50" x2="332.20" y2="885.50" stroke="#262626" stroke-width="2.60"/>
<line x1="322.40" y1="918.80" x2="332.20" y2="918.80" stroke="#262626" stroke-width="2.60"/>
<line x1="366.40" y1="1151.50" x2="366.40" y2="1169.70" stroke="#303030" stroke-width="2.60"/>
<path d="M366.40 928.40V989.20" stroke="#000" stroke-opacity="0.55" stroke-width="2.9"/>
<line x1="361.50" y1="928.70" x2="371.30" y2="928.70" stroke="#262626" stroke-width="2.60"/>
<line x1="361.50" y1="988.90" x2="371.30" y2="988.90" stroke="#262626" stroke-width="2.60"/>
<line x1="405.50" y1="1151.50" x2="405.50" y2="1169.70" stroke="#303030" stroke-width="2.60"/>
<path d="M405.50 966.10V987.50" stroke="#000" stroke-opacity="0.55" stroke-width="2.9"/>
<line x1="400.60" y1="966.40" x2="410.40" y2="966.40" stroke="#262626" stroke-width="2.60"/>
<line x1="400.60" y1="987.20" x2="410.40" y2="987.20" stroke="#262626" stroke-width="2.60"/>
<line x1="444.60" y1="1151.50" x2="444.60" y2="1169.70" stroke="#303030" stroke-width="2.60"/>
<path d="M444.60 893.80V977.40" stroke="#000" stroke-opacity="0.55" stroke-width="2.9"/>
<line x1="439.70" y1="894.10" x2="449.50" y2="894.10" stroke="#262626" stroke-width="2.60"/>
<line x1="439.70" y1="977.10" x2="449.50" y2="977.10" stroke="#262626" stroke-width="2.60"/>
<line x1="483.70" y1="1151.50" x2="483.70" y2="1169.70" stroke="#303030" stroke-width="2.60"/>
<path d="M483.70 888.70V954.10" stroke="#000" stroke-opacity="0.55" stroke-width="2.9"/>
<line x1="478.80" y1="889.00" x2="488.60" y2="889.00" stroke="#262626" stroke-width="2.60"/>
<line x1="478.80" y1="953.80" x2="488.60" y2="953.80" stroke="#262626" stroke-width="2.60"/>
<line x1="522.80" y1="1151.50" x2="522.80" y2="1169.70" stroke="#303030" stroke-width="2.60"/>
<path d="M522.80 900.80V988.70" stroke="#000" stroke-opacity="0.55" stroke-width="2.9"/>
<line x1="517.90" y1="901.10" x2="527.70" y2="901.10" stroke="#262626" stroke-width="2.60"/>
<line x1="517.90" y1="988.40" x2="527.70" y2="988.40" stroke="#262626" stroke-width="2.60"/>
<line x1="561.90" y1="1151.50" x2="561.90" y2="1169.70" stroke="#303030" stroke-width="2.60"/>
<path d="M561.90 936.70V964.40" stroke="#000" stroke-opacity="0.55" stroke-width="2.9"/>
<line x1="557.00" y1="937.00" x2="566.80" y2="937.00" stroke="#262626" stroke-width="2.60"/>
<line x1="557.00" y1="964.10" x2="566.80" y2="964.10" stroke="#262626" stroke-width="2.60"/>
<line x1="601.00" y1="1151.50" x2="601.00" y2="1169.70" stroke="#303030" stroke-width="2.60"/>
<path d="M601.00 887.00V910.90" stroke="#000" stroke-opacity="0.55" stroke-width="2.9"/>
<line x1="596.10" y1="887.30" x2="605.90" y2="887.30" stroke="#262626" stroke-width="2.60"/>
<line x1="596.10" y1="910.60" x2="605.90" y2="910.60" stroke="#262626" stroke-width="2.60"/>
<line x1="640.10" y1="1151.50" x2="640.10" y2="1169.70" stroke="#303030" stroke-width="2.60"/>
<path d="M640.10 809.80V930.50" stroke="#000" stroke-opacity="0.55" stroke-width="2.9"/>
<line x1="635.20" y1="810.10" x2="645.00" y2="810.10" stroke="#262626" stroke-width="2.60"/>
<line x1="635.20" y1="930.20" x2="645.00" y2="930.20" stroke="#262626" stroke-width="2.60"/>
<line x1="679.20" y1="1151.50" x2="679.20" y2="1169.70" stroke="#303030" stroke-width="2.60"/>
<path d="M679.20 934.00V1021.40" stroke="#000" stroke-opacity="0.55" stroke-width="2.9"/>
<line x1="674.30" y1="934.30" x2="684.10" y2="934.30" stroke="#262626" stroke-width="2.60"/>
<line x1="674.30" y1="1021.10" x2="684.10" y2="1021.10" stroke="#262626" stroke-width="2.60"/>
<line x1="718.30" y1="1151.50" x2="718.30" y2="1169.70" stroke="#303030" stroke-width="2.60"/>
<path d="M718.30 924.70V998.80" stroke="#000" stroke-opacity="0.55" stroke-width="2.9"/>
<line x1="713.40" y1="925.00" x2="723.20" y2="925.00" stroke="#262626" stroke-width="2.60"/>
<line x1="713.40" y1="998.50" x2="723.20" y2="998.50" stroke="#262626" stroke-width="2.60"/>
<line x1="757.40" y1="1151.50" x2="757.40" y2="1169.70" stroke="#303030" stroke-width="2.60"/>
<path d="M757.40 962.90V990.50" stroke="#000" stroke-opacity="0.55" stroke-width="2.9"/>
<line x1="752.50" y1="963.20" x2="762.30" y2="963.20" stroke="#262626" stroke-width="2.60"/>
<line x1="752.50" y1="990.20" x2="762.30" y2="990.20" stroke="#262626" stroke-width="2.60"/>
<line x1="796.50" y1="1151.50" x2="796.50" y2="1169.70" stroke="#303030" stroke-width="2.60"/>
<path d="M796.50 858.10V925.20" stroke="#000" stroke-opacity="0.55" stroke-width="2.9"/>
<line x1="791.60" y1="858.40" x2="801.40" y2="858.40" stroke="#262626" stroke-width="2.60"/>
<line x1="791.60" y1="924.90" x2="801.40" y2="924.90" stroke="#262626" stroke-width="2.60"/>
<line x1="835.60" y1="1151.50" x2="835.60" y2="1169.70" stroke="#303030" stroke-width="2.60"/>
<path d="M835.60 872.20V971.00" stroke="#000" stroke-opacity="0.55" stroke-width="2.9"/>
<line x1="830.70" y1="872.50" x2="840.50" y2="872.50" stroke="#262626" stroke-width="2.60"/>
<line x1="830.70" y1="970.70" x2="840.50" y2="970.70" stroke="#262626" stroke-width="2.60"/>
<line x1="874.70" y1="1151.50" x2="874.70" y2="1169.70" stroke="#303030" stroke-width="2.60"/>
<path d="M874.70 846.80V990.50" stroke="#000" stroke-opacity="0.55" stroke-width="2.9"/>
<line x1="869.80" y1="847.10" x2="879.60" y2="847.10" stroke="#262626" stroke-width="2.60"/>
<line x1="869.80" y1="990.20" x2="879.60" y2="990.20" stroke="#262626" stroke-width="2.60"/>
<line x1="913.80" y1="1151.50" x2="913.80" y2="1169.70" stroke="#303030" stroke-width="2.60"/>
<path d="M913.80 907.10V940.50" stroke="#000" stroke-opacity="0.55" stroke-width="2.9"/>
<line x1="908.90" y1="907.40" x2="918.70" y2="907.40" stroke="#262626" stroke-width="2.60"/>
<line x1="908.90" y1="940.20" x2="918.70" y2="940.20" stroke="#262626" stroke-width="2.60"/>
<text font-size="29.00" textLength="16.2" lengthAdjust="spacingAndGlyphs" x="204.30" y="950.60">a</text>
<text font-size="29.00" textLength="16.4" lengthAdjust="spacingAndGlyphs" x="242.80" y="945.30">a</text>
<text font-size="29.00" textLength="54.8" lengthAdjust="spacing" transform="translate(262.10,911.60) rotate(0) scale(0.933,1)">bcd</text>
<text font-size="29.00" textLength="53.0" lengthAdjust="spacing" transform="translate(300.60,876.90) rotate(0) scale(0.977,1)">cde</text>
<text font-size="29.00" textLength="36.0" lengthAdjust="spacing" transform="translate(352.10,919.60) rotate(0) scale(0.907,1)">bc</text>
<text font-size="29.00" textLength="16.2" lengthAdjust="spacingAndGlyphs" x="400.30" y="955.30">a</text>
<text font-size="29.00" textLength="54.8" lengthAdjust="spacing" transform="translate(413.00,885.00) rotate(0) scale(0.933,1)">bcd</text>
<text font-size="29.00" textLength="36.0" lengthAdjust="spacing" transform="translate(462.00,860.60) rotate(0) scale(0.916,1)">cd</text>
<text font-size="29.00" textLength="54.8" lengthAdjust="spacing" transform="translate(496.70,892.80) rotate(0) scale(0.933,1)">bcd</text>
<text font-size="29.00" textLength="54.8" lengthAdjust="spacing" transform="translate(537.90,928.90) rotate(0) scale(0.927,1)">bcd</text>
<text font-size="29.00" textLength="53.1" lengthAdjust="spacing" transform="translate(572.60,872.40) rotate(0) scale(0.967,1)">cde</text>
<text font-size="29.00" textLength="17.5" lengthAdjust="spacingAndGlyphs" x="633.50" y="801.60">e</text>
<text font-size="29.00" textLength="15.9" lengthAdjust="spacingAndGlyphs" x="672.70" y="923.40">a</text>
<text font-size="29.00" textLength="16.2" lengthAdjust="spacingAndGlyphs" x="713.40" y="913.40">a</text>
<text font-size="29.00" textLength="16.1" lengthAdjust="spacingAndGlyphs" x="750.40" y="956.60">a</text>
<text font-size="29.00" textLength="35.9" lengthAdjust="spacing" transform="translate(773.00,834.20) rotate(0) scale(0.975,1)">de</text>
<text font-size="29.00" textLength="71.9" lengthAdjust="spacing" transform="translate(799.80,866.00) rotate(0) scale(0.957,1)">bcde</text>
<text font-size="29.00" textLength="71.8" lengthAdjust="spacing" transform="translate(842.50,838.00) rotate(0) scale(0.969,1)">bcde</text>
<text font-size="29.00" textLength="71.8" lengthAdjust="spacing" transform="translate(885.70,892.50) rotate(0) scale(0.962,1)">bcde</text>
<text font-size="29.00" textLength="18.4" lengthAdjust="spacingAndGlyphs" x="572.60" y="779.40">b</text>
<clipPath id="clip1410"><rect x="0" y="1151.0" width="995" height="259.0"/></clipPath>
<g clip-path="url(#clip1410)">
<text font-size="31.50" font-style="italic" textLength="108.1" lengthAdjust="spacingAndGlyphs" transform="translate(197.70,1171.50) rotate(90)">Control</text>
<text font-size="31.50" font-style="italic" textLength="212.8" lengthAdjust="spacingAndGlyphs" transform="translate(236.80,1171.50) rotate(90)">C. pyrenoidosa</text>
<text font-size="31.50" font-style="italic" textLength="151.5" lengthAdjust="spacingAndGlyphs" transform="translate(275.90,1171.50) rotate(90)">C. vulgaris</text>
<text font-size="31.50" font-style="italic" textLength="189.3" lengthAdjust="spacingAndGlyphs" transform="translate(315.00,1171.50) rotate(90)">C. ellipsoidea</text>
<text font-size="31.50" font-style="italic" textLength="202.8" lengthAdjust="spacingAndGlyphs" transform="translate(354.10,1171.50) rotate(90)">C. sorokiniana</text>
<text font-size="31.50" font-style="italic" textLength="192.0" lengthAdjust="spacingAndGlyphs" transform="translate(393.20,1171.50) rotate(90)">S. dimorphus</text>
<text font-size="31.50" font-style="italic" textLength="158.8" lengthAdjust="spacingAndGlyphs" transform="translate(432.30,1171.50) rotate(90)">S. obliquus</text>
<text font-size="31.50" font-style="italic" textLength="238.6" lengthAdjust="spacingAndGlyphs" transform="translate(471.40,1170.50) rotate(90)">Aphanothece sp.</text>
<text font-size="31.50" font-style="italic" textLength="184.2" lengthAdjust="spacingAndGlyphs" transform="translate(510.50,1171.50) rotate(90)">C. reinhardtii</text>
<text font-size="31.50" font-style="italic" textLength="153.7" lengthAdjust="spacingAndGlyphs" transform="translate(549.60,1170.00) rotate(90)">A. maxima</text>
<text font-size="31.50" font-style="italic" textLength="166.5" lengthAdjust="spacingAndGlyphs" transform="translate(588.70,1170.00) rotate(90)">A. platensis</text>
<text font-size="31.50" font-style="italic" textLength="159.3" lengthAdjust="spacingAndGlyphs" transform="translate(627.80,1171.50) rotate(90)">N. gaditana</text>
<text font-size="31.50" font-style="italic" textLength="135.6" lengthAdjust="spacingAndGlyphs" transform="translate(666.90,1171.50) rotate(90)">C. marina</text>
<text font-size="31.50" font-style="italic" textLength="216.2" lengthAdjust="spacingAndGlyphs" transform="translate(706.00,1171.50) rotate(90)">Tetraselmis sp.</text>
<text font-size="31.50" font-style="italic" textLength="141.2" lengthAdjust="spacingAndGlyphs" transform="translate(745.10,1171.50) rotate(90)">T. suecica</text>
<text font-size="31.50" font-style="italic" textLength="119.6" lengthAdjust="spacingAndGlyphs" transform="translate(784.20,1171.50) rotate(90)">D. salina</text>
<text font-size="31.50" font-style="italic" textLength="132.7" lengthAdjust="spacingAndGlyphs" transform="translate(823.30,1169.50) rotate(90)">I. galbana</text>
<text font-size="31.50" font-style="italic" textLength="248.2" lengthAdjust="spacingAndGlyphs" transform="translate(862.40,1171.50) rotate(90)">Porphyridium sp.</text>
<text font-size="31.50" font-style="italic" textLength="132.1" lengthAdjust="spacingAndGlyphs" transform="translate(901.50,1171.50) rotate(90)">T. marina</text>
</g>
<text font-size="27.80" stroke="#000" stroke-width="0.40" stroke-linejoin="round" textLength="381.5" lengthAdjust="spacing" transform="translate(29.70,1113.00) rotate(-90) scale(0.870,1)">Phosphorus concentration</text>
<text font-size="27.00" stroke="#000" stroke-width="0.40" stroke-linejoin="round" textLength="117.7" lengthAdjust="spacing" transform="translate(56.30,1001.40) rotate(-90) scale(0.870,1)">(mg g-1)</text>
<rect x="194.80" y="1556.30" width="20.60" height="267.20" fill="#fc9e1e"/>
<path d="M194.80 1823.50V1557.60" fill="none" stroke="#000" stroke-opacity="0.8" stroke-width="2.2"/>
<path d="M193.70 1556.50H216.50" fill="none" stroke="#000" stroke-opacity="0.8" stroke-width="2.6"/>
<path d="M215.40 1557.80V1823.50" fill="none" stroke="#000" stroke-opacity="0.66" stroke-width="2.2"/>
<path d="M195.90 1823.20H214.30" fill="none" stroke="#000" stroke-opacity="0.5" stroke-width="1.6"/>
<rect x="234.45" y="1534.90" width="20.60" height="288.60" fill="#ef3039"/>
<path d="M234.45 1823.50V1536.20" fill="none" stroke="#000" stroke-opacity="0.8" stroke-width="2.2"/>
<path d="M233.35 1535.10H256.15" fill="none" stroke="#000" stroke-opacity="0.8" stroke-width="2.6"/>
<path d="M255.05 1536.40V1823.50" fill="none" stroke="#000" stroke-opacity="0.66" stroke-width="2.2"/>
<path d="M235.55 1823.20H253.95" fill="none" stroke="#000" stroke-opacity="0.5" stroke-width="1.6"/>
<rect x="274.10" y="1593.00" width="20.60" height="230.50" fill="#ef3039"/>
<path d="M274.10 1823.50V1594.30" fill="none" stroke="#000" stroke-opacity="0.8" stroke-width="2.2"/>
<path d="M273.00 1593.20H295.80" fill="none" stroke="#000" stroke-opacity="0.8" stroke-width="2.6"/>
<path d="M294.70 1594.50V1823.50" fill="none" stroke="#000" stroke-opacity="0.66" stroke-width="2.2"/>
<path d="M275.20 1823.20H293.60" fill="none" stroke="#000" stroke-opacity="0.5" stroke-width="1.6"/>
<rect x="313.75" y="1551.50" width="20.60" height="272.00" fill="#ef3039"/>
<path d="M313.75 1823.50V1552.80" fill="none" stroke="#000" stroke-opacity="0.8" stroke-width="2.2"/>
<path d="M312.65 1551.70H335.45" fill="none" stroke="#000" stroke-opacity="0.8" stroke-width="2.6"/>
<path d="M334.35 1553.00V1823.50" fill="none" stroke="#000" stroke-opacity="0.66" stroke-width="2.2"/>
<path d="M314.85 1823.20H333.25" fill="none" stroke="#000" stroke-opacity="0.5" stroke-width="1.6"/>
<rect x="353.40" y="1607.30" width="20.60" height="216.20" fill="#ef3039"/>
<path d="M353.40 1823.50V1608.60" fill="none" stroke="#000" stroke-opacity="0.8" stroke-width="2.2"/>
<path d="M352.30 1607.50H375.10" fill="none" stroke="#000" stroke-opacity="0.8" stroke-width="2.6"/>
<path d="M374.00 1608.80V1823.50" fill="none" stroke="#000" stroke-opacity="0.66" stroke-width="2.2"/>
<path d="M354.50 1823.20H372.90" fill="none" stroke="#000" stroke-opacity="0.5" stroke-width="1.6"/>
<rect x="393.05" y="1591.50" width="20.60" height="232.00" fill="#ef3039"/>
<path d="M393.05 1823.50V1592.80" fill="none" stroke="#000" stroke-opacity="0.8" stroke-width="2.2"/>
<path d="M391.95 1591.70H414.75" fill="none" stroke="#000" stroke-opacity="0.8" stroke-width="2.6"/>
<path d="M413.65 1593.00V1823.50" fill="none" stroke="#000" stroke-opacity="0.66" stroke-width="2.2"/>
<path d="M394.15 1823.20H412.55" fill="none" stroke="#000" stroke-opacity="0.5" stroke-width="1.6"/>
<rect x="432.70" y="1548.20" width="20.60" height="275.30" fill="#ef3039"/>
<path d="M432.70 1823.50V1549.50" fill="none" stroke="#000" stroke-opacity="0.8" stroke-width="2.2"/>
<path d="M431.60 1548.40H454.40" fill="none" stroke="#000" stroke-opacity="0.8" stroke-width="2.6"/>
<path d="M453.30 1549.70V1823.50" fill="none" stroke="#000" stroke-opacity="0.66" stroke-width="2.2"/>
<path d="M433.80 1823.20H452.20" fill="none" stroke="#000" stroke-opacity="0.5" stroke-width="1.6"/>
<rect x="472.35" y="1510.00" width="20.60" height="313.50" fill="#ef3039"/>
<path d="M472.35 1823.50V1511.30" fill="none" stroke="#000" stroke-opacity="0.8" stroke-width="2.2"/>
<path d="M471.25 1510.20H494.05" fill="none" stroke="#000" stroke-opacity="0.8" stroke-width="2.6"/>
<path d="M492.95 1511.50V1823.50" fill="none" stroke="#000" stroke-opacity="0.66" stroke-width="2.2"/>
<path d="M473.45 1823.20H491.85" fill="none" stroke="#000" stroke-opacity="0.5" stroke-width="1.6"/>
<rect x="512.00" y="1618.10" width="20.60" height="205.40" fill="#ef3039"/>
<path d="M512.00 1823.50V1619.40" fill="none" stroke="#000" stroke-opacity="0.8" stroke-width="2.2"/>
<path d="M510.90 1618.30H533.70" fill="none" stroke="#000" stroke-opacity="0.8" stroke-width="2.6"/>
<path d="M532.60 1619.60V1823.50" fill="none" stroke="#000" stroke-opacity="0.66" stroke-width="2.2"/>
<path d="M513.10 1823.20H531.50" fill="none" stroke="#000" stroke-opacity="0.5" stroke-width="1.6"/>
<rect x="551.65" y="1500.00" width="20.60" height="323.50" fill="#ef3039"/>
<path d="M551.65 1823.50V1501.30" fill="none" stroke="#000" stroke-opacity="0.8" stroke-width="2.2"/>
<path d="M550.55 1500.20H573.35" fill="none" stroke="#000" stroke-opacity="0.8" stroke-width="2.6"/>
<path d="M572.25 1501.50V1823.50" fill="none" stroke="#000" stroke-opacity="0.66" stroke-width="2.2"/>
<path d="M552.75 1823.20H571.15" fill="none" stroke="#000" stroke-opacity="0.5" stroke-width="1.6"/>
<rect x="591.30" y="1525.60" width="20.60" height="297.90" fill="#ef3039"/>
<path d="M591.30 1823.50V1526.90" fill="none" stroke="#000" stroke-opacity="0.8" stroke-width="2.2"/>
<path d="M590.20 1525.80H613.00" fill="none" stroke="#000" stroke-opacity="0.8" stroke-width="2.6"/>
<path d="M611.90 1527.10V1823.50" fill="none" stroke="#000" stroke-opacity="0.66" stroke-width="2.2"/>
<path d="M592.40 1823.20H610.80" fill="none" stroke="#000" stroke-opacity="0.5" stroke-width="1.6"/>
<rect x="630.95" y="1482.90" width="20.60" height="340.60" fill="#999999"/>
<path d="M630.95 1823.50V1484.20" fill="none" stroke="#000" stroke-opacity="0.8" stroke-width="2.2"/>
<path d="M629.85 1483.10H652.65" fill="none" stroke="#000" stroke-opacity="0.8" stroke-width="2.6"/>
<path d="M651.55 1484.40V1823.50" fill="none" stroke="#000" stroke-opacity="0.66" stroke-width="2.2"/>
<path d="M632.05 1823.20H650.45" fill="none" stroke="#000" stroke-opacity="0.5" stroke-width="1.6"/>
<rect x="670.60" y="1563.80" width="20.60" height="259.70" fill="#999999"/>
<path d="M670.60 1823.50V1565.10" fill="none" stroke="#000" stroke-opacity="0.8" stroke-width="2.2"/>
<path d="M669.50 1564.00H692.30" fill="none" stroke="#000" stroke-opacity="0.8" stroke-width="2.6"/>
<path d="M691.20 1565.30V1823.50" fill="none" stroke="#000" stroke-opacity="0.66" stroke-width="2.2"/>
<path d="M671.70 1823.20H690.10" fill="none" stroke="#000" stroke-opacity="0.5" stroke-width="1.6"/>
<rect x="710.25" y="1648.70" width="20.60" height="174.80" fill="#999999"/>
<path d="M710.25 1823.50V1650.00" fill="none" stroke="#000" stroke-opacity="0.8" stroke-width="2.2"/>
<path d="M709.15 1648.90H731.95" fill="none" stroke="#000" stroke-opacity="0.8" stroke-width="2.6"/>
<path d="M730.85 1650.20V1823.50" fill="none" stroke="#000" stroke-opacity="0.66" stroke-width="2.2"/>
<path d="M711.35 1823.20H729.75" fill="none" stroke="#000" stroke-opacity="0.5" stroke-width="1.6"/>
<rect x="749.90" y="1645.70" width="20.60" height="177.80" fill="#999999"/>
<path d="M749.90 1823.50V1647.00" fill="none" stroke="#000" stroke-opacity="0.8" stroke-width="2.2"/>
<path d="M748.80 1645.90H771.60" fill="none" stroke="#000" stroke-opacity="0.8" stroke-width="2.6"/>
<path d="M770.50 1647.20V1823.50" fill="none" stroke="#000" stroke-opacity="0.66" stroke-width="2.2"/>
<path d="M751.00 1823.20H769.40" fill="none" stroke="#000" stroke-opacity="0.5" stroke-width="1.6"/>
<rect x="789.55" y="1585.40" width="20.60" height="238.10" fill="#999999"/>
<path d="M789.55 1823.50V1586.70" fill="none" stroke="#000" stroke-opacity="0.8" stroke-width="2.2"/>
<path d="M788.45 1585.60H811.25" fill="none" stroke="#000" stroke-opacity="0.8" stroke-width="2.6"/>
<path d="M810.15 1586.90V1823.50" fill="none" stroke="#000" stroke-opacity="0.66" stroke-width="2.2"/>
<path d="M790.65 1823.20H809.05" fill="none" stroke="#000" stroke-opacity="0.5" stroke-width="1.6"/>
<rect x="829.20" y="1578.90" width="20.60" height="244.60" fill="#999999"/>
<path d="M829.20 1823.50V1580.20" fill="none" stroke="#000" stroke-opacity="0.8" stroke-width="2.2"/>
<path d="M828.10 1579.10H850.90" fill="none" stroke="#000" stroke-opacity="0.8" stroke-width="2.6"/>
<path d="M849.80 1580.40V1823.50" fill="none" stroke="#000" stroke-opacity="0.66" stroke-width="2.2"/>
<path d="M830.30 1823.20H848.70" fill="none" stroke="#000" stroke-opacity="0.5" stroke-width="1.6"/>
<rect x="868.85" y="1534.90" width="20.60" height="288.60" fill="#999999"/>
<path d="M868.85 1823.50V1536.20" fill="none" stroke="#000" stroke-opacity="0.8" stroke-width="2.2"/>
<path d="M867.75 1535.10H890.55" fill="none" stroke="#000" stroke-opacity="0.8" stroke-width="2.6"/>
<path d="M889.45 1536.40V1823.50" fill="none" stroke="#000" stroke-opacity="0.66" stroke-width="2.2"/>
<path d="M869.95 1823.20H888.35" fill="none" stroke="#000" stroke-opacity="0.5" stroke-width="1.6"/>
<rect x="908.50" y="1578.40" width="20.60" height="245.10" fill="#999999"/>
<path d="M908.50 1823.50V1579.70" fill="none" stroke="#000" stroke-opacity="0.8" stroke-width="2.2"/>
<path d="M907.40 1578.60H930.20" fill="none" stroke="#000" stroke-opacity="0.8" stroke-width="2.6"/>
<path d="M929.10 1579.90V1823.50" fill="none" stroke="#000" stroke-opacity="0.66" stroke-width="2.2"/>
<path d="M909.60 1823.20H928.00" fill="none" stroke="#000" stroke-opacity="0.5" stroke-width="1.6"/>
<line x1="144.60" y1="1411.90" x2="144.60" y2="1824.30" stroke="#5a5a5a" stroke-width="2.40"/>
<line x1="143.50" y1="1823.50" x2="980.00" y2="1823.50" stroke="#777777" stroke-width="1.30"/>
<line x1="125.60" y1="1467.30" x2="144.80" y2="1467.30" stroke="#333333" stroke-width="2.50"/>
<text font-size="28.50" stroke="#000" stroke-width="0.45" stroke-linejoin="round" textLength="51.6" lengthAdjust="spacingAndGlyphs" x="72.80" y="1477.80">1.20</text>
<line x1="125.60" y1="1526.70" x2="144.80" y2="1526.70" stroke="#333333" stroke-width="2.50"/>
<text font-size="28.50" stroke="#000" stroke-width="0.45" stroke-linejoin="round" textLength="51.6" lengthAdjust="spacingAndGlyphs" x="72.80" y="1537.20">1.00</text>
<line x1="125.60" y1="1586.00" x2="144.80" y2="1586.00" stroke="#333333" stroke-width="2.50"/>
<text font-size="28.50" stroke="#000" stroke-width="0.45" stroke-linejoin="round" textLength="51.6" lengthAdjust="spacingAndGlyphs" x="72.80" y="1596.50">0.80</text>
<line x1="125.60" y1="1645.40" x2="144.80" y2="1645.40" stroke="#333333" stroke-width="2.50"/>
<text font-size="28.50" stroke="#000" stroke-width="0.45" stroke-linejoin="round" textLength="51.6" lengthAdjust="spacingAndGlyphs" x="72.80" y="1655.90">0.60</text>
<line x1="125.60" y1="1704.80" x2="144.80" y2="1704.80" stroke="#333333" stroke-width="2.50"/>
<text font-size="28.50" stroke="#000" stroke-width="0.45" stroke-linejoin="round" textLength="51.6" lengthAdjust="spacingAndGlyphs" x="72.80" y="1715.30">0.40</text>
<line x1="125.60" y1="1764.10" x2="144.80" y2="1764.10" stroke="#333333" stroke-width="2.50"/>
<text font-size="28.50" stroke="#000" stroke-width="0.45" stroke-linejoin="round" textLength="51.6" lengthAdjust="spacingAndGlyphs" x="72.80" y="1774.60">0.20</text>
<line x1="125.60" y1="1823.50" x2="144.80" y2="1823.50" stroke="#333333" stroke-width="2.50"/>
<text font-size="28.50" stroke="#000" stroke-width="0.45" stroke-linejoin="round" textLength="51.6" lengthAdjust="spacingAndGlyphs" x="72.80" y="1834.00">0.00</text>
<line x1="205.10" y1="1824.00" x2="205.10" y2="1843.50" stroke="#303030" stroke-width="2.60"/>
<path d="M205.10 1532.40V1579.60" stroke="#000" stroke-opacity="0.55" stroke-width="2.9"/>
<line x1="200.20" y1="1532.70" x2="210.00" y2="1532.70" stroke="#262626" stroke-width="2.60"/>
<line x1="200.20" y1="1579.30" x2="210.00" y2="1579.30" stroke="#262626" stroke-width="2.60"/>
<line x1="244.75" y1="1824.00" x2="244.75" y2="1843.50" stroke="#303030" stroke-width="2.60"/>
<path d="M244.75 1496.20V1572.60" stroke="#000" stroke-opacity="0.55" stroke-width="2.9"/>
<line x1="239.85" y1="1496.50" x2="249.65" y2="1496.50" stroke="#262626" stroke-width="2.60"/>
<line x1="239.85" y1="1572.30" x2="249.65" y2="1572.30" stroke="#262626" stroke-width="2.60"/>
<line x1="284.40" y1="1824.00" x2="284.40" y2="1843.50" stroke="#303030" stroke-width="2.60"/>
<path d="M284.40 1568.80V1616.10" stroke="#000" stroke-opacity="0.55" stroke-width="2.9"/>
<line x1="279.50" y1="1569.10" x2="289.30" y2="1569.10" stroke="#262626" stroke-width="2.60"/>
<line x1="279.50" y1="1615.80" x2="289.30" y2="1615.80" stroke="#262626" stroke-width="2.60"/>
<line x1="324.05" y1="1824.00" x2="324.05" y2="1843.50" stroke="#303030" stroke-width="2.60"/>
<path d="M324.05 1530.70V1572.60" stroke="#000" stroke-opacity="0.55" stroke-width="2.9"/>
<line x1="319.15" y1="1531.00" x2="328.95" y2="1531.00" stroke="#262626" stroke-width="2.60"/>
<line x1="319.15" y1="1572.30" x2="328.95" y2="1572.30" stroke="#262626" stroke-width="2.60"/>
<line x1="363.70" y1="1824.00" x2="363.70" y2="1843.50" stroke="#303030" stroke-width="2.60"/>
<path d="M363.70 1602.30V1611.80" stroke="#000" stroke-opacity="0.55" stroke-width="2.9"/>
<line x1="358.80" y1="1602.60" x2="368.60" y2="1602.60" stroke="#262626" stroke-width="2.60"/>
<line x1="358.80" y1="1611.50" x2="368.60" y2="1611.50" stroke="#262626" stroke-width="2.60"/>
<line x1="403.35" y1="1824.00" x2="403.35" y2="1843.50" stroke="#303030" stroke-width="2.60"/>
<path d="M403.35 1567.80V1614.30" stroke="#000" stroke-opacity="0.55" stroke-width="2.9"/>
<line x1="398.45" y1="1568.10" x2="408.25" y2="1568.10" stroke="#262626" stroke-width="2.60"/>
<line x1="398.45" y1="1614.00" x2="408.25" y2="1614.00" stroke="#262626" stroke-width="2.60"/>
<line x1="443.00" y1="1824.00" x2="443.00" y2="1843.50" stroke="#303030" stroke-width="2.60"/>
<path d="M443.00 1541.50V1555.30" stroke="#000" stroke-opacity="0.55" stroke-width="2.9"/>
<line x1="438.10" y1="1541.80" x2="447.90" y2="1541.80" stroke="#262626" stroke-width="2.60"/>
<line x1="438.10" y1="1555.00" x2="447.90" y2="1555.00" stroke="#262626" stroke-width="2.60"/>
<line x1="482.65" y1="1824.00" x2="482.65" y2="1843.50" stroke="#303030" stroke-width="2.60"/>
<path d="M482.65 1503.00V1517.60" stroke="#000" stroke-opacity="0.55" stroke-width="2.9"/>
<line x1="477.75" y1="1503.30" x2="487.55" y2="1503.30" stroke="#262626" stroke-width="2.60"/>
<line x1="477.75" y1="1517.30" x2="487.55" y2="1517.30" stroke="#262626" stroke-width="2.60"/>
<line x1="522.30" y1="1824.00" x2="522.30" y2="1843.50" stroke="#303030" stroke-width="2.60"/>
<path d="M522.30 1562.80V1675.60" stroke="#000" stroke-opacity="0.55" stroke-width="2.9"/>
<line x1="517.40" y1="1563.10" x2="527.20" y2="1563.10" stroke="#262626" stroke-width="2.60"/>
<line x1="517.40" y1="1675.30" x2="527.20" y2="1675.30" stroke="#262626" stroke-width="2.60"/>
<line x1="561.95" y1="1824.00" x2="561.95" y2="1843.50" stroke="#303030" stroke-width="2.60"/>
<path d="M561.95 1481.70V1518.10" stroke="#000" stroke-opacity="0.55" stroke-width="2.9"/>
<line x1="557.05" y1="1482.00" x2="566.85" y2="1482.00" stroke="#262626" stroke-width="2.60"/>
<line x1="557.05" y1="1517.80" x2="566.85" y2="1517.80" stroke="#262626" stroke-width="2.60"/>
<line x1="601.60" y1="1824.00" x2="601.60" y2="1843.50" stroke="#303030" stroke-width="2.60"/>
<path d="M601.60 1501.80V1550.80" stroke="#000" stroke-opacity="0.55" stroke-width="2.9"/>
<line x1="596.70" y1="1502.10" x2="606.50" y2="1502.10" stroke="#262626" stroke-width="2.60"/>
<line x1="596.70" y1="1550.50" x2="606.50" y2="1550.50" stroke="#262626" stroke-width="2.60"/>
<line x1="641.25" y1="1824.00" x2="641.25" y2="1843.50" stroke="#303030" stroke-width="2.60"/>
<path d="M641.25 1459.00V1507.50" stroke="#000" stroke-opacity="0.55" stroke-width="2.9"/>
<line x1="636.35" y1="1459.30" x2="646.15" y2="1459.30" stroke="#262626" stroke-width="2.60"/>
<line x1="636.35" y1="1507.20" x2="646.15" y2="1507.20" stroke="#262626" stroke-width="2.60"/>
<line x1="680.90" y1="1824.00" x2="680.90" y2="1843.50" stroke="#303030" stroke-width="2.60"/>
<path d="M680.90 1544.50V1582.70" stroke="#000" stroke-opacity="0.55" stroke-width="2.9"/>
<line x1="676.00" y1="1544.80" x2="685.80" y2="1544.80" stroke="#262626" stroke-width="2.60"/>
<line x1="676.00" y1="1582.40" x2="685.80" y2="1582.40" stroke="#262626" stroke-width="2.60"/>
<line x1="720.55" y1="1824.00" x2="720.55" y2="1843.50" stroke="#303030" stroke-width="2.60"/>
<path d="M720.55 1636.20V1663.10" stroke="#000" stroke-opacity="0.55" stroke-width="2.9"/>
<line x1="715.65" y1="1636.50" x2="725.45" y2="1636.50" stroke="#262626" stroke-width="2.60"/>
<line x1="715.65" y1="1662.80" x2="725.45" y2="1662.80" stroke="#262626" stroke-width="2.60"/>
<line x1="760.20" y1="1824.00" x2="760.20" y2="1843.50" stroke="#303030" stroke-width="2.60"/>
<path d="M760.20 1644.50V1647.00" stroke="#000" stroke-opacity="0.55" stroke-width="2.9"/>
<line x1="755.30" y1="1644.80" x2="765.10" y2="1644.80" stroke="#262626" stroke-width="2.60"/>
<line x1="755.30" y1="1646.70" x2="765.10" y2="1646.70" stroke="#262626" stroke-width="2.60"/>
<line x1="799.85" y1="1824.00" x2="799.85" y2="1843.50" stroke="#303030" stroke-width="2.60"/>
<path d="M799.85 1559.50V1611.80" stroke="#000" stroke-opacity="0.55" stroke-width="2.9"/>
<line x1="794.95" y1="1559.80" x2="804.75" y2="1559.80" stroke="#262626" stroke-width="2.60"/>
<line x1="794.95" y1="1611.50" x2="804.75" y2="1611.50" stroke="#262626" stroke-width="2.60"/>
<line x1="839.50" y1="1824.00" x2="839.50" y2="1843.50" stroke="#303030" stroke-width="2.60"/>
<path d="M839.50 1555.50V1603.00" stroke="#000" stroke-opacity="0.55" stroke-width="2.9"/>
<line x1="834.60" y1="1555.80" x2="844.40" y2="1555.80" stroke="#262626" stroke-width="2.60"/>
<line x1="834.60" y1="1602.70" x2="844.40" y2="1602.70" stroke="#262626" stroke-width="2.60"/>
<line x1="879.15" y1="1824.00" x2="879.15" y2="1843.50" stroke="#303030" stroke-width="2.60"/>
<path d="M879.15 1515.10V1555.80" stroke="#000" stroke-opacity="0.55" stroke-width="2.9"/>
<line x1="874.25" y1="1515.40" x2="884.05" y2="1515.40" stroke="#262626" stroke-width="2.60"/>
<line x1="874.25" y1="1555.50" x2="884.05" y2="1555.50" stroke="#262626" stroke-width="2.60"/>
<line x1="918.80" y1="1824.00" x2="918.80" y2="1843.50" stroke="#303030" stroke-width="2.60"/>
<path d="M918.80 1553.30V1603.00" stroke="#000" stroke-opacity="0.55" stroke-width="2.9"/>
<line x1="913.90" y1="1553.60" x2="923.70" y2="1553.60" stroke="#262626" stroke-width="2.60"/>
<line x1="913.90" y1="1602.70" x2="923.70" y2="1602.70" stroke="#262626" stroke-width="2.60"/>
<text font-size="29.00" textLength="53.1" lengthAdjust="spacing" transform="translate(178.20,1521.20) rotate(0) scale(0.957,1)">cde</text>
<text font-size="29.00" textLength="46.5" lengthAdjust="spacing" transform="translate(220.20,1484.00) rotate(0) scale(1.007,1)">efg</text>
<text font-size="29.00" textLength="36.0" lengthAdjust="spacing" transform="translate(268.40,1556.90) rotate(0) scale(0.931,1)">bc</text>
<text font-size="29.00" textLength="53.0" lengthAdjust="spacing" transform="translate(296.80,1521.70) rotate(0) scale(0.977,1)">cde</text>
<text font-size="29.00" textLength="16.7" lengthAdjust="spacingAndGlyphs" x="357.10" y="1581.00">b</text>
<text font-size="29.00" textLength="36.0" lengthAdjust="spacing" transform="translate(386.00,1558.90) rotate(0) scale(0.931,1)">bc</text>
<text font-size="29.00" textLength="46.4" lengthAdjust="spacing" transform="translate(411.30,1527.00) rotate(0) scale(1.030,1)">def</text>
<text font-size="29.00" textLength="46.7" lengthAdjust="spacing" transform="translate(460.30,1494.10) rotate(0) scale(0.943,1)">ghi</text>
<text font-size="29.00" textLength="16.2" lengthAdjust="spacingAndGlyphs" x="516.50" y="1553.90">b</text>
<text font-size="29.00" textLength="28.0" lengthAdjust="spacing" transform="translate(547.40,1473.50) rotate(0) scale(0.884,1)">hi</text>
<text font-size="29.00" textLength="46.5" lengthAdjust="spacing" transform="translate(578.10,1491.60) rotate(0) scale(0.984,1)">efg</text>
<text font-size="29.00" textLength="7.1" lengthAdjust="spacingAndGlyphs" x="637.90" y="1448.30">i</text>
<text font-size="29.00" textLength="53.0" lengthAdjust="spacing" transform="translate(654.40,1533.00) rotate(0) scale(0.977,1)">cde</text>
<text font-size="29.00" textLength="16.4" lengthAdjust="spacingAndGlyphs" x="714.20" y="1629.20">a</text>
<text font-size="29.00" textLength="16.2" lengthAdjust="spacingAndGlyphs" x="755.40" y="1633.00">a</text>
<text font-size="29.00" textLength="36.0" lengthAdjust="spacing" transform="translate(780.70,1552.40) rotate(0) scale(0.931,1)">bc</text>
<text font-size="29.00" textLength="54.7" lengthAdjust="spacing" transform="translate(809.80,1529.50) rotate(0) scale(0.943,1)">bcd</text>
<text font-size="29.00" textLength="46.5" lengthAdjust="spacing" transform="translate(857.30,1500.60) rotate(0) scale(0.995,1)">efg</text>
<text font-size="29.00" textLength="54.8" lengthAdjust="spacing" transform="translate(896.70,1548.30) rotate(0) scale(0.939,1)">bcd</text>
<text font-size="29.00" textLength="16.7" lengthAdjust="spacingAndGlyphs" x="578.10" y="1434.50">c</text>
<text font-size="31.50" font-style="italic" textLength="111.8" lengthAdjust="spacingAndGlyphs" transform="translate(193.30,1843.90) rotate(90)">Control</text>
<text font-size="31.50" font-style="italic" textLength="220.6" lengthAdjust="spacingAndGlyphs" transform="translate(232.95,1843.90) rotate(90)">C. pyrenoidosa</text>
<text font-size="31.50" font-style="italic" textLength="159.1" lengthAdjust="spacingAndGlyphs" transform="translate(272.60,1843.90) rotate(90)">C. vulgaris</text>
<text font-size="31.50" font-style="italic" textLength="196.0" lengthAdjust="spacingAndGlyphs" transform="translate(312.25,1843.90) rotate(90)">C. ellipsoidea</text>
<text font-size="31.50" font-style="italic" textLength="210.5" lengthAdjust="spacingAndGlyphs" transform="translate(351.90,1843.90) rotate(90)">C. sorokiniana</text>
<text font-size="31.50" font-style="italic" textLength="198.6" lengthAdjust="spacingAndGlyphs" transform="translate(391.55,1843.90) rotate(90)">S. dimorphus</text>
<text font-size="31.50" font-style="italic" textLength="163.6" lengthAdjust="spacingAndGlyphs" transform="translate(431.20,1843.90) rotate(90)">S. obliquus</text>
<text font-size="31.50" font-style="italic" textLength="246.8" lengthAdjust="spacingAndGlyphs" transform="translate(470.85,1842.90) rotate(90)">Aphanothece sp.</text>
<text font-size="31.50" font-style="italic" textLength="192.6" lengthAdjust="spacingAndGlyphs" transform="translate(510.50,1843.90) rotate(90)">C. reinhardtii</text>
<text font-size="31.50" font-style="italic" textLength="158.1" lengthAdjust="spacingAndGlyphs" transform="translate(550.15,1842.40) rotate(90)">A. maxima</text>
<text font-size="31.50" font-style="italic" textLength="172.4" lengthAdjust="spacingAndGlyphs" transform="translate(589.80,1842.40) rotate(90)">A. platensis</text>
<text font-size="31.50" font-style="italic" textLength="164.5" lengthAdjust="spacingAndGlyphs" transform="translate(629.45,1843.90) rotate(90)">N. gaditana</text>
<text font-size="31.50" font-style="italic" textLength="141.2" lengthAdjust="spacingAndGlyphs" transform="translate(669.10,1843.90) rotate(90)">C. marina</text>
<text font-size="31.50" font-style="italic" textLength="222.9" lengthAdjust="spacingAndGlyphs" transform="translate(708.75,1843.90) rotate(90)">Tetraselmis sp.</text>
<text font-size="31.50" font-style="italic" textLength="146.1" lengthAdjust="spacingAndGlyphs" transform="translate(748.40,1843.90) rotate(90)">T. suecica</text>
<text font-size="31.50" font-style="italic" textLength="124.3" lengthAdjust="spacingAndGlyphs" transform="translate(788.05,1843.90) rotate(90)">D. salina</text>
<text font-size="31.50" font-style="italic" textLength="138.7" lengthAdjust="spacingAndGlyphs" transform="translate(827.70,1841.70) rotate(90)">I. galbana</text>
<text font-size="31.50" font-style="italic" textLength="254.2" lengthAdjust="spacingAndGlyphs" transform="translate(867.35,1843.90) rotate(90)">Porphyridium sp.</text>
<text font-size="31.50" font-style="italic" textLength="137.2" lengthAdjust="spacingAndGlyphs" transform="translate(907.00,1843.90) rotate(90)">T. marina</text>
<text font-size="28.30" stroke="#000" stroke-width="0.40" stroke-linejoin="round" textLength="371.1" lengthAdjust="spacing" transform="translate(23.60,1778.70) rotate(-90) scale(0.870,1)">Potassium concentration</text>
<text font-size="27.00" stroke="#000" stroke-width="0.40" stroke-linejoin="round" textLength="119.9" lengthAdjust="spacing" transform="translate(50.20,1670.40) rotate(-90) scale(0.870,1)">(mg g-1)</text>
<rect x="197.70" y="3.40" width="25.60" height="24.60" fill="#fc9e1e" stroke="#3a3a3a" stroke-width="2.00"/>
<text font-size="27.00" textLength="92.0" lengthAdjust="spacingAndGlyphs" x="230.50" y="26.40">Control</text>
<rect x="197.70" y="34.00" width="25.60" height="24.60" fill="#ef3039" stroke="#3a3a3a" stroke-width="2.00"/>
<text font-size="27.00" textLength="150.5" lengthAdjust="spacingAndGlyphs" x="230.50" y="56.60">Fresh water</text>
<rect x="197.70" y="64.60" width="25.60" height="24.60" fill="#999999" stroke="#3a3a3a" stroke-width="2.00"/>
<text font-size="27.00" textLength="130.1" lengthAdjust="spacingAndGlyphs" x="230.50" y="86.80">Sea water</text>
<text font-size="28.00" textLength="136.0" lengthAdjust="spacingAndGlyphs" x="494.00" y="2146.20">Treatment</text>
</g>
</svg>
</body>
</html>
